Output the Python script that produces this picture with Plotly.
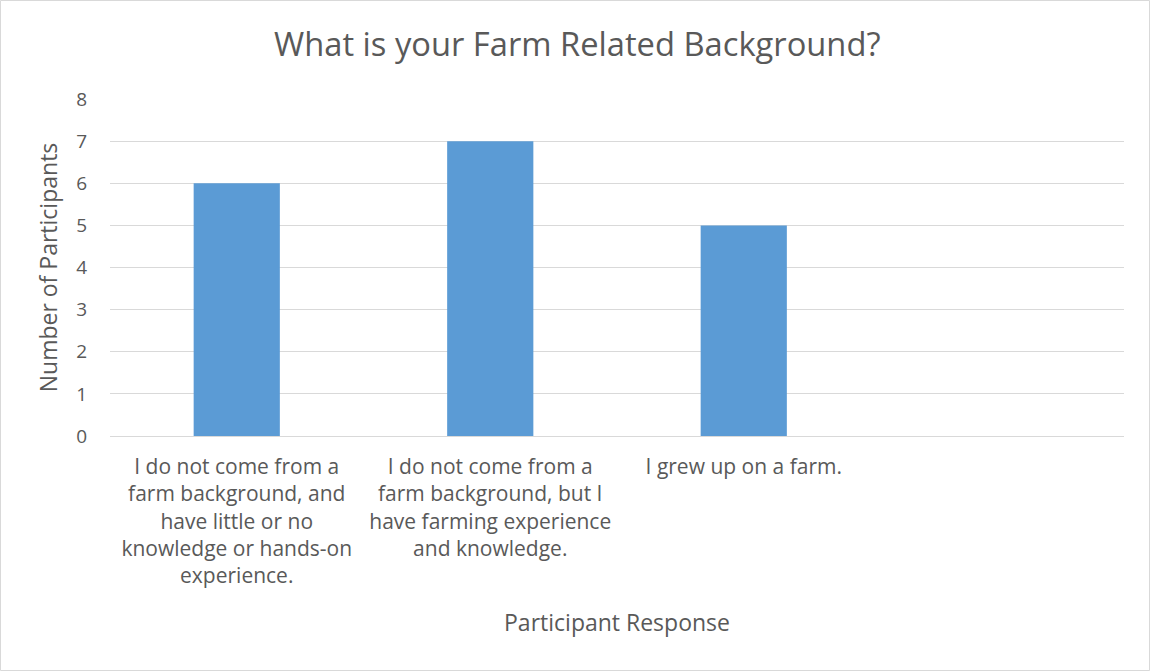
import plotly.graph_objects as go

# Survey responses: farm-related background of participants
categories = [
    "I do not come from a<br>farm background, and<br>have little or no<br>knowledge or hands-on<br>experience.",
    "I do not come from a<br>farm background, but I<br>have farming experience<br>and knowledge.",
    "I grew up on a farm.<br> <br> <br> <br> ",
]
participants = [6, 7, 5]
y_ticks = [0, 1, 2, 3, 4, 5, 6, 7, 8]

W, H = 1150, 671
L, R, T, B = 110, 26, 99, 235
pw, ph = W - L - R, H - T - B

text_col = "#595959"
font_family = "Open Sans, Liberation Sans, sans-serif"

fig = go.Figure(
    go.Bar(
        x=categories,
        y=participants,
        marker=dict(color="#5b9bd5", line=dict(width=0)),
        width=0.34,
    )
)

fig.update_layout(
    width=W,
    height=H,
    margin=dict(l=L, r=R, t=T, b=B, autoexpand=False),
    paper_bgcolor="white",
    plot_bgcolor="white",
    showlegend=False,
    font=dict(family=font_family, color=text_col),
    title=dict(
        text="What is your Farm Related Background?",
        x=0.502,
        xref="container",
        xanchor="center",
        y=1 - 45 / H,
        yanchor="middle",
        yref="container",
        font=dict(size=32.7, color=text_col, family=font_family),
    ),
)

fig.update_xaxes(
    type="category",
    range=[-0.5, 3.5],
    showgrid=False,
    showline=False,
    zeroline=False,
    ticks="",
    tickfont=dict(size=21, color=text_col),
    ticklabelstandoff=16,
    automargin=False,
    title=dict(
        text="Participant Response",
        font=dict(size=23, color=text_col),
        standoff=26,
    ),
)

fig.update_yaxes(
    range=[0, 8],
    tickvals=y_ticks,
    showgrid=True,
    gridcolor="#d9d9d9",
    gridwidth=1.3,
    zeroline=True,
    zerolinecolor="#d9d9d9",
    zerolinewidth=1.3,
    showline=False,
    ticks="",
    tickfont=dict(size=19, color=text_col),
    ticklabelstandoff=22,
    automargin=False,
    title=dict(
        text="Number of Participants",
        font=dict(size=23, color=text_col),
        standoff=12,
    ),
)

# light frame around the whole chart area
fig.add_shape(
    type="rect",
    xref="paper",
    yref="paper",
    x0=(0.5 - L) / pw,
    x1=(W - 0.5 - L) / pw,
    y0=-(B - 0.5) / ph,
    y1=1 + (T - 0.5) / ph,
    line=dict(color="#d9d9d9", width=1),
    layer="below",
)

fig.write_html("out.html")
